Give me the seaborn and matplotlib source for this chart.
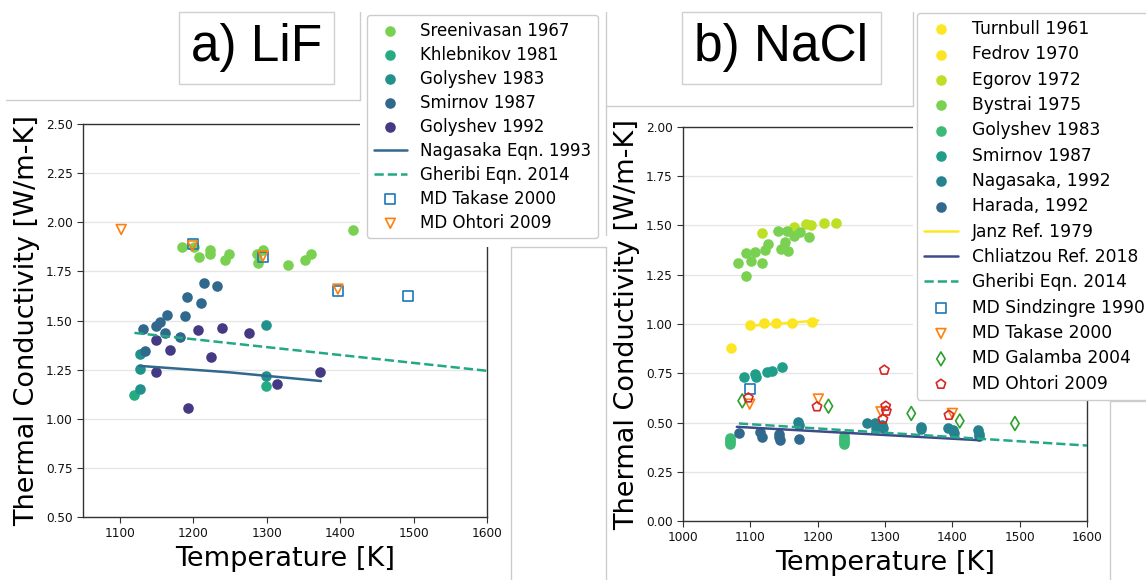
import numpy as np
import pandas as pd
import matplotlib
matplotlib.use('Agg')  # no display
import matplotlib.pyplot as plt
import seaborn as sns
from matplotlib.lines import Line2D
from matplotlib.patches import Rectangle

W, H = 1146, 580

# ---------------- LiF (panel a) ----------------
lif_sreenivasan_T = [1185, 1201, 1208, 1223, 1223, 1243, 1249, 1287, 1288, 1295, 1329, 1352, 1360, 1417]
lif_sreenivasan_k = [1.875, 1.872, 1.824, 1.858, 1.836, 1.807, 1.836, 1.838, 1.793, 1.858, 1.780, 1.807, 1.836, 1.960]
lif_khlebnikov_T = [1120, 1299]
lif_khlebnikov_k = [1.121, 1.165]
lif_golyshev83_T = [1127, 1127, 1127, 1299, 1299]
lif_golyshev83_k = [1.328, 1.255, 1.149, 1.476, 1.216]
lif_smirnov_T = [1132, 1135, 1149, 1155, 1164, 1161, 1182, 1189, 1192, 1210, 1215, 1233]
lif_smirnov_k = [1.456, 1.345, 1.473, 1.490, 1.530, 1.434, 1.417, 1.523, 1.620, 1.587, 1.690, 1.676]
lif_golyshev92_T = [1150, 1149, 1168, 1193, 1206, 1224, 1239, 1276, 1314, 1372]
lif_golyshev92_k = [1.400, 1.237, 1.349, 1.057, 1.451, 1.315, 1.464, 1.437, 1.179, 1.237]
lif_nagasaka_eqn_T = [1127, 1250, 1374]
lif_nagasaka_eqn_k = [1.269, 1.236, 1.192]
lif_gheribi_eqn_T = [1120, 1600]
lif_gheribi_eqn_k = [1.437, 1.244]
lif_md_takase_T = [1200, 1295, 1397, 1493]
lif_md_takase_k = [1.889, 1.824, 1.651, 1.624]
lif_md_ohtori_T = [1102, 1199, 1295, 1397]
lif_md_ohtori_k = [1.963, 1.880, 1.828, 1.660]

# ---------------- NaCl (panel b) ----------------
nacl_turnbull_T = [1072]
nacl_turnbull_k = [0.880]
nacl_fedrov_T = [1099, 1121, 1138, 1162, 1192]
nacl_fedrov_k = [0.993, 1.005, 1.005, 1.005, 1.008]
nacl_egorov_T = [1117, 1165, 1182, 1190, 1210, 1227]
nacl_egorov_k = [1.461, 1.492, 1.508, 1.502, 1.513, 1.515]
nacl_bystrai_T = [1081, 1093, 1093, 1101, 1107, 1117, 1122, 1126, 1141, 1145, 1151, 1154, 1156, 1165, 1174, 1187]
nacl_bystrai_k = [1.309, 1.359, 1.244, 1.322, 1.363, 1.312, 1.376, 1.407, 1.473, 1.380, 1.417, 1.473, 1.370, 1.447, 1.469, 1.441]
nacl_golyshev_T = [1070, 1070, 1070, 1070, 1239, 1239, 1239, 1239, 1239]
nacl_golyshev_k = [0.390, 0.400, 0.410, 0.420, 0.390, 0.400, 0.410, 0.420, 0.430]
nacl_smirnov_T = [1090, 1107, 1109, 1125, 1132, 1147]
nacl_smirnov_k = [0.730, 0.746, 0.732, 0.758, 0.763, 0.780]
nacl_nagasaka_T = [1171, 1172, 1274, 1285, 1287, 1296, 1297, 1353, 1354, 1394, 1401, 1402, 1438, 1439, 1440]
nacl_nagasaka_k = [0.503, 0.487, 0.498, 0.498, 0.470, 0.487, 0.470, 0.478, 0.465, 0.470, 0.460, 0.448, 0.460, 0.444, 0.430]
nacl_harada_T = [1083, 1114, 1117, 1142, 1143, 1144, 1173]
nacl_harada_k = [0.449, 0.452, 0.424, 0.444, 0.427, 0.412, 0.417]
nacl_janz_T = [1098, 1201]
nacl_janz_k = [0.990, 1.018]
nacl_chliatzou_T = [1080, 1441]
nacl_chliatzou_k = [0.478, 0.410]
nacl_gheribi_T = [1083, 1600]
nacl_gheribi_k = [0.495, 0.383]
nacl_md_sindzingre_T = [1099]
nacl_md_sindzingre_k = [0.671]
nacl_md_takase_T = [1099, 1201, 1294, 1400]
nacl_md_takase_k = [0.593, 0.619, 0.554, 0.546]
nacl_md_galamba_T = [1088, 1216, 1339, 1411, 1493]
nacl_md_galamba_k = [0.610, 0.583, 0.546, 0.508, 0.495]
nacl_md_ohtori_T = [1097, 1199, 1299, 1301, 1302, 1297, 1395]
nacl_md_ohtori_k = [0.625, 0.580, 0.766, 0.583, 0.558, 0.517, 0.537]


def fig_xy(px, py):
    """pixel position in the 1146x580 picture -> figure fraction"""
    return px / W, 1 - py / H


def dots(ax, T, k, color, label):
    df = pd.DataFrame({'T': T, 'k': k})
    sns.scatterplot(data=df, x='T', y='k', ax=ax, s=58, color=color,
                    linewidth=0, label=label, zorder=3)


def hollow(ax, T, k, color, marker, label):
    df = pd.DataFrame({'T': T, 'k': k})
    sns.scatterplot(data=df, x='T', y='k', ax=ax, s=50, marker=marker,
                    facecolor='none', edgecolor=color, linewidth=1.2,
                    label=label, zorder=4)


def curve(ax, T, k, color, label, ls='-'):
    df = pd.DataFrame({'T': T, 'k': k})
    sns.lineplot(data=df, x='T', y='k', ax=ax, color=color, linestyle=ls,
                 linewidth=1.8, label=label, zorder=3)


def style_axes(ax, xlim, xticks, ylim, yticks):
    ax.set_xlim(*xlim)
    ax.set_ylim(*ylim)
    ax.set_xticks(xticks)
    ax.set_yticks(yticks)
    ax.set_yticklabels([f'{v:.2f}' for v in yticks])
    ax.xaxis.grid(False)
    ax.yaxis.grid(True, color='#e6e6e6', linewidth=1)
    ax.tick_params(labelsize=8.7, length=4, color='#333333', labelcolor='#111111')
    for sp in ax.spines.values():
        sp.set_color('#333333')
        sp.set_linewidth(1)
    ax.set_xlabel('Temperature [K]', fontsize=19.5, color='black')
    ax.set_ylabel('Thermal Conductivity [W/m-K]', fontsize=19.5, color='black')
    if ax.get_legend() is not None:
        ax.get_legend().remove()


sns.set_style("ticks")
plt.rcParams['font.family'] = ['DejaVu Sans']
plt.rcParams['text.color'] = 'black'

fig = plt.figure(figsize=(W / 100, H / 100), dpi=100)
ax_a = fig.add_axes([83 / W, 1 - 517 / H, 404 / W, 393 / H])
ax_b = fig.add_axes([683 / W, 1 - 521 / H, 404 / W, 394 / H])

# panel a) LiF
dots(ax_a, lif_sreenivasan_T, lif_sreenivasan_k, '#7ad151', 'Sreenivasan 1967')
dots(ax_a, lif_khlebnikov_T, lif_khlebnikov_k, '#25ac82', 'Khlebnikov 1981')
dots(ax_a, lif_golyshev83_T, lif_golyshev83_k, '#21918c', 'Golyshev 1983')
dots(ax_a, lif_smirnov_T, lif_smirnov_k, '#31688e', 'Smirnov 1987')
dots(ax_a, lif_golyshev92_T, lif_golyshev92_k, '#443983', 'Golyshev 1992')
curve(ax_a, lif_nagasaka_eqn_T, lif_nagasaka_eqn_k, '#31688e', 'Nagasaka Eqn. 1993')
curve(ax_a, lif_gheribi_eqn_T, lif_gheribi_eqn_k, '#22a884', 'Gheribi Eqn. 2014', ls='--')
hollow(ax_a, lif_md_takase_T, lif_md_takase_k, '#1f77b4', 's', 'MD Takase 2000')
hollow(ax_a, lif_md_ohtori_T, lif_md_ohtori_k, '#ff7f0e', 'v', 'MD Ohtori 2009')
handles_a, labels_a = ax_a.get_legend_handles_labels()
style_axes(ax_a, (1050, 1600), [1100, 1200, 1300, 1400, 1500, 1600],
           (0.5, 2.5), [0.5, 0.75, 1.0, 1.25, 1.5, 1.75, 2.0, 2.25, 2.5])

# panel b) NaCl
dots(ax_b, nacl_turnbull_T, nacl_turnbull_k, '#fde725', 'Turnbull 1961')
dots(ax_b, nacl_fedrov_T, nacl_fedrov_k, '#fbe421', 'Fedrov 1970')
dots(ax_b, nacl_egorov_T, nacl_egorov_k, '#bddf26', 'Egorov 1972')
dots(ax_b, nacl_bystrai_T, nacl_bystrai_k, '#7ad151', 'Bystrai 1975')
dots(ax_b, nacl_golyshev_T, nacl_golyshev_k, '#3bbb75', 'Golyshev 1983')
dots(ax_b, nacl_smirnov_T, nacl_smirnov_k, '#1f9e89', 'Smirnov 1987')
dots(ax_b, nacl_nagasaka_T, nacl_nagasaka_k, '#26828e', 'Nagasaka, 1992')
dots(ax_b, nacl_harada_T, nacl_harada_k, '#31688e', 'Harada, 1992')
curve(ax_b, nacl_janz_T, nacl_janz_k, '#fde725', 'Janz Ref. 1979')
curve(ax_b, nacl_chliatzou_T, nacl_chliatzou_k, '#3e4a89', 'Chliatzou Ref. 2018')
curve(ax_b, nacl_gheribi_T, nacl_gheribi_k, '#22a884', 'Gheribi Eqn. 2014', ls='--')
hollow(ax_b, nacl_md_sindzingre_T, nacl_md_sindzingre_k, '#1f77b4', 's', 'MD Sindzingre 1990')
hollow(ax_b, nacl_md_takase_T, nacl_md_takase_k, '#ff7f0e', 'v', 'MD Takase 2000')
hollow(ax_b, nacl_md_galamba_T, nacl_md_galamba_k, '#2ca02c', 'd', 'MD Galamba 2004')
hollow(ax_b, nacl_md_ohtori_T, nacl_md_ohtori_k, '#d62728', 'p', 'MD Ohtori 2009')
handles_b, labels_b = ax_b.get_legend_handles_labels()
style_axes(ax_b, (1000, 1600), [1000, 1100, 1200, 1300, 1400, 1500, 1600],
           (0.0, 2.0), [0.0, 0.25, 0.5, 0.75, 1.0, 1.25, 1.5, 1.75, 2.0])

# white panels of the pasted layout that hide the corners of the plots
for (x0, y0, x1, y1) in [(360, 0, 606, 247), (913, 0, 1146, 401)]:
    fig.patches.append(Rectangle(fig_xy(x0, y1), (x1 - x0) / W, (y1 - y0) / H,
                                 transform=fig.transFigure, facecolor='white',
                                 edgecolor='none', zorder=1))

# thin grey frame edges left over from the layout
frame_segments = [
    ((6, 100), (360, 100)), ((360, 12), (360, 100)),
    ((606, 12), (606, 235)), ((606, 106), (913, 106)), ((913, 12), (913, 106)),
    ((511, 247), (606, 247)), ((511, 247), (511, 580)), ((606, 247), (606, 580)),
    ((1110, 401), (1146, 401)), ((1110, 401), (1110, 580)),
]
for p0, p1 in frame_segments:
    (fx0, fy0), (fx1, fy1) = fig_xy(*p0), fig_xy(*p1)
    fig.lines.append(Line2D([fx0, fx1], [fy0, fy1], transform=fig.transFigure,
                            color='#cccccc', linewidth=1, zorder=2))

# panel titles in their own boxes
for (x0, y0, x1, y1), title in [((179, 12, 334, 84), 'a) LiF'),
                                ((682, 12, 881, 84), 'b) NaCl')]:
    fig.patches.append(Rectangle(fig_xy(x0, y1), (x1 - x0) / W, (y1 - y0) / H,
                                 transform=fig.transFigure, facecolor='white',
                                 edgecolor='#d0d0d0', linewidth=1, zorder=2))
    cx, cy = fig_xy((x0 + x1) / 2, (y0 + y1) / 2)
    fig.text(cx, cy, title, fontsize=37, family='Liberation Sans', color='black',
             ha='center', va='center', zorder=3)

# legends
leg_kw = dict(loc='upper left', borderaxespad=0, frameon=True, framealpha=1,
              edgecolor='#cccccc')
fig.legend(handles_a, labels_a, bbox_to_anchor=fig_xy(367, 15),
           fontsize=12, labelspacing=0.36, **leg_kw)
fig.legend(handles_b, labels_b, bbox_to_anchor=fig_xy(917, 13),
           fontsize=12.3, labelspacing=0.43, **leg_kw)

plt.savefig('out.png', dpi=100)
plt.close()
